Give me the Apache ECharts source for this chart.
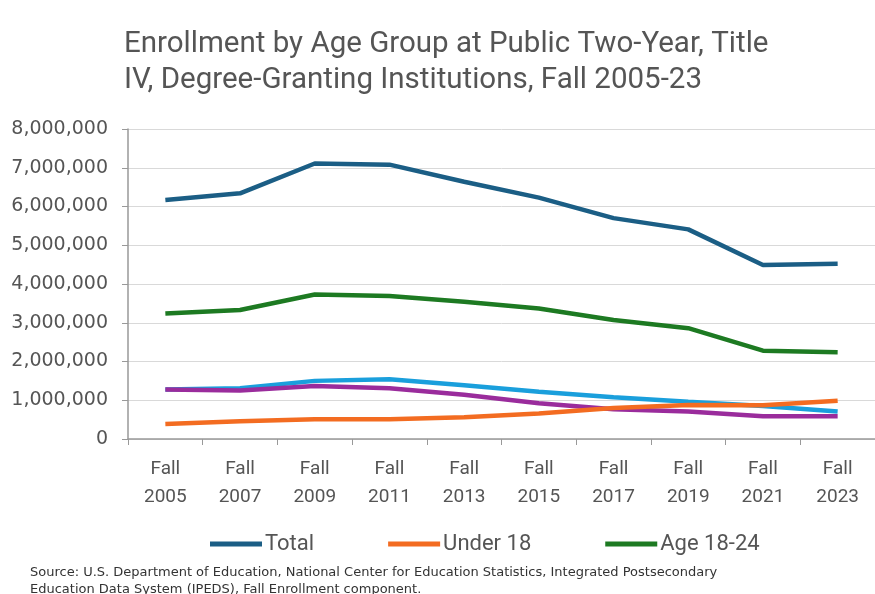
<!DOCTYPE html>
<html><head><meta charset="utf-8">
<script src="https://cdn.jsdelivr.net/npm/echarts@6/dist/echarts.min.js"></script>
<style>html,body{margin:0;padding:0;background:#fff}#c{width:875px;height:594px}</style>
</head><body><div id="c"></div>
<script>
const categories = ['Fall\n2005','Fall\n2007','Fall\n2009','Fall\n2011','Fall\n2013','Fall\n2015','Fall\n2017','Fall\n2019','Fall\n2021','Fall\n2023'];
const total    = [6170000, 6340000, 7110000, 7080000, 6640000, 6230000, 5700000, 5410000, 4490000, 4520000];
const under18  = [390000, 460000, 510000, 510000, 560000, 660000, 800000, 880000, 870000, 990000];
const age18_24 = [3240000, 3330000, 3730000, 3690000, 3540000, 3370000, 3070000, 2860000, 2280000, 2240000];
const age25_34 = [1280000, 1310000, 1500000, 1540000, 1390000, 1220000, 1080000, 960000, 850000, 710000];
const age35up  = [1280000, 1250000, 1370000, 1310000, 1140000, 920000, 770000, 710000, 590000, 590000];
const yTicks = [0, 1000000, 2000000, 3000000, 4000000, 5000000, 6000000, 7000000, 8000000];

const chart = echarts.init(document.getElementById('c'));
const mk = (name, data, color) => ({
  name, type: 'line', data, symbol: 'none', smooth: false,
  lineStyle: { width: 4.5, color }, itemStyle: { color }
});
chart.setOption({
  animation: false,
  title: {
    text: 'Enrollment by Age Group at Public Two-Year, Title\nIV, Degree-Granting Institutions, Fall 2005-23',
    left: 119, top: 22,
    textStyle: { fontFamily: 'Roboto', fontSize: 29.5, fontWeight: 'normal', color: '#555', lineHeight: 36 }
  },
  legend: {
    data: ['Total', 'Under 18', 'Age 18-24'],
    bottom: 34, left: 205,
    itemWidth: 52, itemHeight: 5, itemGap: 74,
    icon: 'rect',
    textStyle: { fontFamily: 'Roboto', fontSize: 22, color: '#555', padding: [0, 0, 0, -2] }
  },
  graphic: [{
    type: 'text', left: 30, top: 564,
    style: {
      text: 'Source: U.S. Department of Education, National Center for Education Statistics, Integrated Postsecondary\nEducation Data System (IPEDS), Fall Enrollment component.',
      font: '13px "DejaVu Sans"', fill: '#333', lineHeight: 17
    }
  }],
  grid: { left: 128, right: -7, top: 129, bottom: 155, containLabel: false },
  xAxis: {
    type: 'category', data: categories, boundaryGap: true,
    axisLine: { lineStyle: { color: '#999', width: 1.5 } },
    axisTick: { show: true, length: 6, lineStyle: { color: '#999' } },
    axisLabel: { fontFamily: 'Roboto', fontSize: 19, color: '#555', lineHeight: 28, margin: 16 }
  },
  yAxis: {
    type: 'value', min: yTicks[0], max: yTicks[yTicks.length - 1], interval: 1000000,
    axisLine: { show: true, lineStyle: { color: '#999', width: 1.5 } },
    axisTick: { show: true, length: 6, lineStyle: { color: '#999' } },
    splitLine: { lineStyle: { color: '#d9d9d9' } },
    axisLabel: {
      fontFamily: 'DejaVu Sans', fontSize: 19, color: '#555', margin: 20,
      formatter: v => v.toLocaleString('en-US')
    }
  },
  series: [
    mk('Age 25-34', age25_34, '#1a9fdc'),
    mk('Age 35 and Older', age35up, '#9a2c9c'),
    mk('Under 18', under18, '#f36c21'),
    mk('Age 18-24', age18_24, '#1d7a22'),
    mk('Total', total, '#1b5e85')
  ]
});
</script></body></html>
